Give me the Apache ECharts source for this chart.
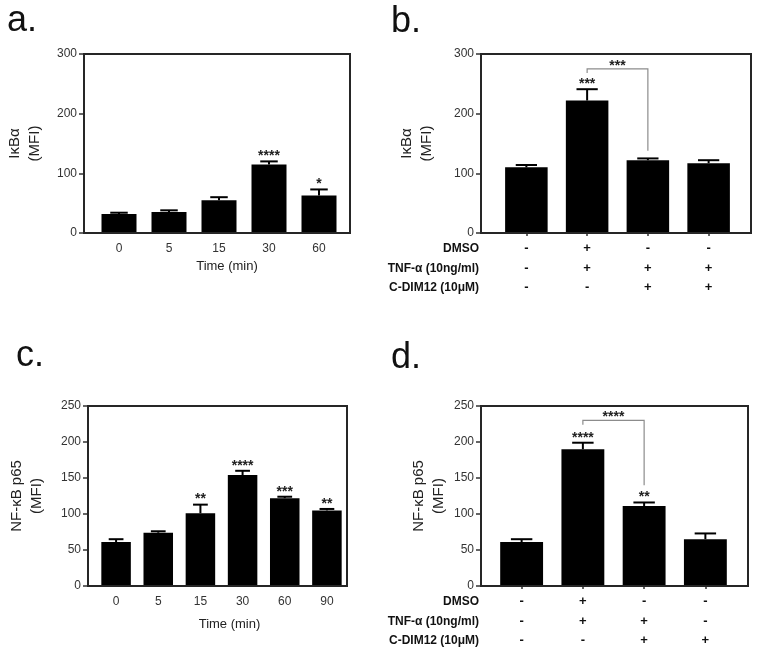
<!DOCTYPE html>
<html><head><meta charset="utf-8">
<script src="https://cdn.jsdelivr.net/npm/echarts@6/dist/echarts.min.js"></script>
<style>html,body{margin:0;padding:0;background:#fff}#c{width:762px;height:660px}</style>
</head><body><div id="c"></div>
<script>
// ---------- data ----------
const aCategories = ['0', '5', '15', '30', '60'];
const aValues = [32, 35, 55, 115, 63];
const aErrors = [2, 3, 5, 5, 10];
const aStars = ['', '', '', '****', '*'];

const bCategories = ['g1', 'g2', 'g3', 'g4'];
const bValues = [110, 222, 122, 117];
const bErrors = [4, 19, 3, 5];
const bStars = ['', '***', '', ''];
const bBracket = [1, 2, 275, 268, 138];   // from, to, top, left end, right end
const bBracketLabel = '***';
const bDMSO = ['-', '+', '-', '-'];
const bTNF = ['-', '+', '+', '+'];
const bCDIM = ['-', '-', '+', '+'];

const cCategories = ['0', '5', '15', '30', '60', '90'];
const cValues = [61, 74, 101, 154, 122, 105];
const cErrors = [4, 2, 12, 6, 2, 2];
const cStars = ['', '', '**', '****', '***', '**'];

const dCategories = ['g1', 'g2', 'g3', 'g4'];
const dValues = [61, 190, 111, 65];
const dErrors = [4, 9, 5, 8];
const dStars = ['', '****', '**', ''];
const dBracket = [1, 2, 230, 224, 140];
const dBracketLabel = '****';
const dDMSO = ['-', '+', '-', '-'];
const dTNF = ['-', '+', '+', '-'];
const dCDIM = ['-', '-', '+', '+'];

const rowLabels = ['DMSO', 'TNF-α (10ng/ml)', 'C-DIM12 (10μM)'];
const yTicksAB = [0, 300, 100];
const yTicksCD = [0, 250, 50];

// ---------- build ----------
const FONT = '"Liberation Sans", Arial, Helvetica, sans-serif';
const grids = [], xAxes = [], yAxes = [], series = [], graphics = [];

function addPanel(p) {
  const fi = grids.length;
  grids.push({left: p.frame[0], top: p.frame[1], width: p.frame[2], height: p.frame[3],
    show: true, borderColor: '#262626', borderWidth: 2, backgroundColor: 'transparent', z: 5});
  grids.push({left: p.data[0], top: p.frame[1], width: p.data[1], height: p.frame[3]});
  xAxes.push({gridIndex: fi, type: 'value', show: false, min: 0, max: 1});
  yAxes.push({gridIndex: fi, type: 'value', min: p.yTicks[0], max: p.yTicks[1], interval: p.yTicks[2],
    axisLine: {show: false},
    axisTick: {show: true, length: 5, lineStyle: {color: '#333', width: 1.5}},
    axisLabel: {fontSize: 12, color: '#333', margin: 7, fontFamily: FONT},
    splitLine: {show: false},
    name: p.yName, nameLocation: 'middle', nameRotate: 90, nameGap: p.nameGap,
    nameTextStyle: {fontSize: 15, lineHeight: 20, color: '#222', fontFamily: FONT}});
  const di = fi + 1;
  const xa = {gridIndex: di, type: 'category', data: p.categories,
    axisLine: {show: false},
    axisTick: {show: !!p.signs, alignWithLabel: true, length: 3, lineStyle: {color: '#333', width: 1.5}},
    splitLine: {show: false}};
  if (p.signs) {
    xa.axisLabel = {margin: 6, fontSize: 13, fontWeight: 'bold', lineHeight: 19.5, color: '#111', fontFamily: FONT,
      formatter: (v, i) => p.signs.map(r => r[i]).join('\n')};
  } else {
    xa.axisLabel = {margin: 10, fontSize: 12, color: '#333', fontFamily: FONT};
    xa.name = 'Time (min)';
    xa.nameLocation = 'middle';
    xa.nameGap = p.xNameGap;
    xa.nameTextStyle = {fontSize: 13, color: '#222', fontFamily: FONT, padding: [0, 0, 0, 16]};
  }
  xAxes.push(xa);
  yAxes.push({gridIndex: di, type: 'value', min: p.yTicks[0], max: p.yTicks[1], show: false});

  series.push({type: 'bar', xAxisIndex: di, yAxisIndex: di, data: p.values,
    barCategoryGap: '30%', itemStyle: {color: '#000'}, z: 3});

  const stars = p.stars;
  series.push({type: 'custom', xAxisIndex: di, yAxisIndex: di, z: 4,
    data: p.values.map((v, i) => [i, v, p.errors[i]]),
    encode: {x: 0, y: 1},
    renderItem: function (params, api) {
      const x = api.value(0), v = api.value(1), e = api.value(2);
      const top = api.coord([x, v + e]);
      const base = api.coord([x, v]);
      const bw = api.size([1, 0])[0] * 0.7;
      const cap = bw * 0.5;
      const children = [
        {type: 'line', shape: {x1: top[0], y1: base[1], x2: top[0], y2: top[1]}, style: {stroke: '#000', lineWidth: 2}},
        {type: 'line', shape: {x1: top[0] - cap / 2, y1: top[1], x2: top[0] + cap / 2, y2: top[1]}, style: {stroke: '#000', lineWidth: 2}}
      ];
      const s = stars[params.dataIndex];
      if (s) children.push({type: 'text', x: top[0], y: top[1] - 5,
        style: {text: s, align: 'center', verticalAlign: 'middle', fontSize: 14, fontWeight: 'bold', fill: '#222', fontFamily: FONT}});
      return {type: 'group', children: children};
    }});

  if (p.bracket) {
    const lab = p.bracketLabel;
    series.push({type: 'custom', xAxisIndex: di, yAxisIndex: di, z: 4,
      data: [p.bracket], encode: {x: [0, 1], y: [2, 3, 4]},
      renderItem: function (params, api) {
        const i1 = api.value(0), i2 = api.value(1), t = api.value(2), l = api.value(3), r = api.value(4);
        const pL = api.coord([i1, l]), pLT = api.coord([i1, t]), pRT = api.coord([i2, t]), pR = api.coord([i2, r]);
        return {type: 'group', children: [
          {type: 'polyline', shape: {points: [pL, pLT, pRT, pR]}, style: {stroke: '#8c8c8c', lineWidth: 1.2, fill: null}},
          {type: 'text', x: (pLT[0] + pRT[0]) / 2, y: pLT[1] - 3,
            style: {text: lab, align: 'center', verticalAlign: 'middle', fontSize: 14, fontWeight: 'bold', fill: '#222', fontFamily: FONT}}
        ]};
      }});
  }
}

addPanel({frame: [84, 54, 266, 179], data: [94, 250], yTicks: yTicksAB, yName: 'IκBα\n(MFI)', nameGap: 39,
  categories: aCategories, values: aValues, errors: aErrors, stars: aStars, xNameGap: 27});
addPanel({frame: [481, 54, 270, 179], data: [496, 243], yTicks: yTicksAB, yName: 'IκBα\n(MFI)', nameGap: 44,
  categories: bCategories, values: bValues, errors: bErrors, stars: bStars,
  bracket: bBracket, bracketLabel: bBracketLabel, signs: [bDMSO, bTNF, bCDIM]});
addPanel({frame: [88, 406, 259, 180], data: [95, 253], yTicks: yTicksCD, yName: 'NF-κB p65\n(MFI)', nameGap: 41,
  categories: cCategories, values: cValues, errors: cErrors, stars: cStars, xNameGap: 32});
addPanel({frame: [481, 406, 267, 180], data: [491, 245], yTicks: yTicksCD, yName: 'NF-κB p65\n(MFI)', nameGap: 32,
  categories: dCategories, values: dValues, errors: dErrors, stars: dStars,
  bracket: dBracket, bracketLabel: dBracketLabel, signs: [dDMSO, dTNF, dCDIM]});

// panel letters
[['a.', 7, 43], ['b.', 391, 44], ['c.', 16, 378], ['d.', 391, 380]].forEach(function (t) {
  graphics.push({type: 'text', left: t[1], top: t[2] - 40,
    style: {text: t[0], fontSize: 36, fill: '#111', fontFamily: FONT}});
});
// row labels for condition tables
[[249, 268.5, 288], [602, 621.5, 641]].forEach(function (ys) {
  rowLabels.forEach(function (lab, k) {
    graphics.push({type: 'text', x: 479, y: ys[k],
      style: {text: lab, align: 'right', verticalAlign: 'middle', fontSize: 12, fontWeight: 'bold', fill: '#111', fontFamily: FONT}});
  });
});

const chart = echarts.init(document.getElementById('c'), null, {renderer: 'canvas'});
chart.setOption({
  animation: false,
  backgroundColor: '#fff',
  grid: grids, xAxis: xAxes, yAxis: yAxes, series: series, graphic: graphics
});
</script></body></html>
